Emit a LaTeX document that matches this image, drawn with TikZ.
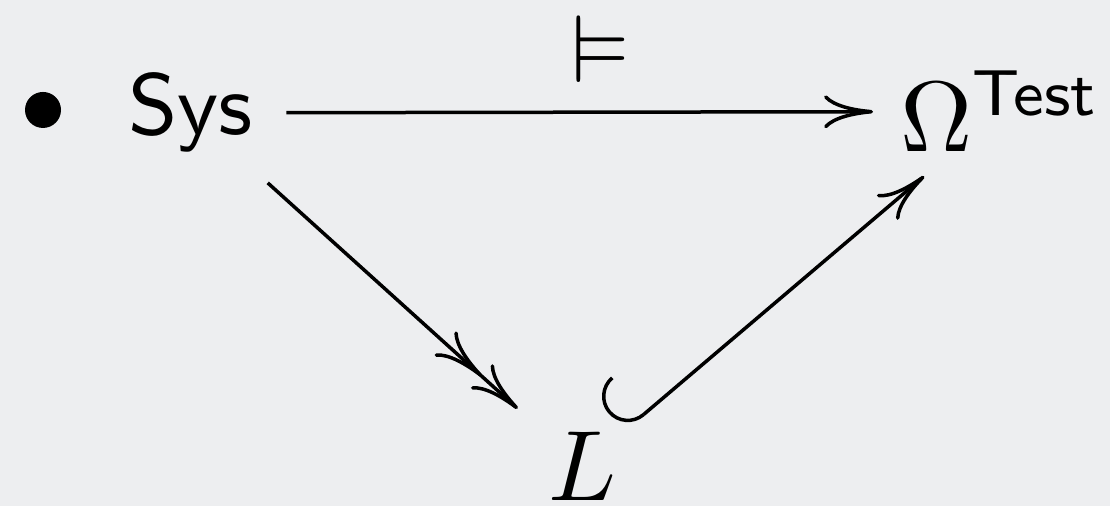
\documentclass[tikz,border=0pt]{standalone}
\usepackage{amsmath,amssymb}
\usepackage{fontspec}
\usetikzlibrary{arrows.meta}

\definecolor{slidebg}{RGB}{237,238,240}

\begin{document}
\begin{tikzpicture}[x=0.1pt,y=-0.1pt,
  obj/.style={inner sep=0pt,outer sep=0pt},
  map/.style={draw=black,line width=0.35pt},
  cmto/.tip={Computer Modern Rightarrow[length=4.9pt,width=3.3pt]},
  hooktail/.tip={Hooks[right,width=10pt,length=2.6pt]},
]

% slide background
\path[use as bounding box,fill=slidebg] (0,0) rectangle (1110,506);

\node[circle,fill=black,minimum size=3.6pt,inner sep=0pt] (dot) at (43,110) {};
\node[obj,anchor=base west,font=\sffamily\fontsize{8.65}{10}\selectfont] (sys) at (128,135) {Sys};
\node[obj,anchor=base west] (omega) at (900,152) {$\Omega^{\text{\fontsize{6.5}{8}\selectfont\sffamily Test}}$};
\node[obj,anchor=base west] (L) at (548,501) {$L$};
\node[obj,anchor=base,font=\fontsize{9.6}{12}\selectfont] (models) at (601,83) {$\vDash$};

\draw[map,-cmto,shorten <=3.4pt,shorten >=2.7pt] (sys) -- (omega);
\draw[map,-{cmto[]cmto[sep=3pt]},shorten <=4.5pt,shorten >=1.1pt] (sys) -- (L);
\draw[map,hooktail-cmto,shorten <=1pt,shorten >=3.75pt] (L) -- (omega);

\end{tikzpicture}
\end{document}
